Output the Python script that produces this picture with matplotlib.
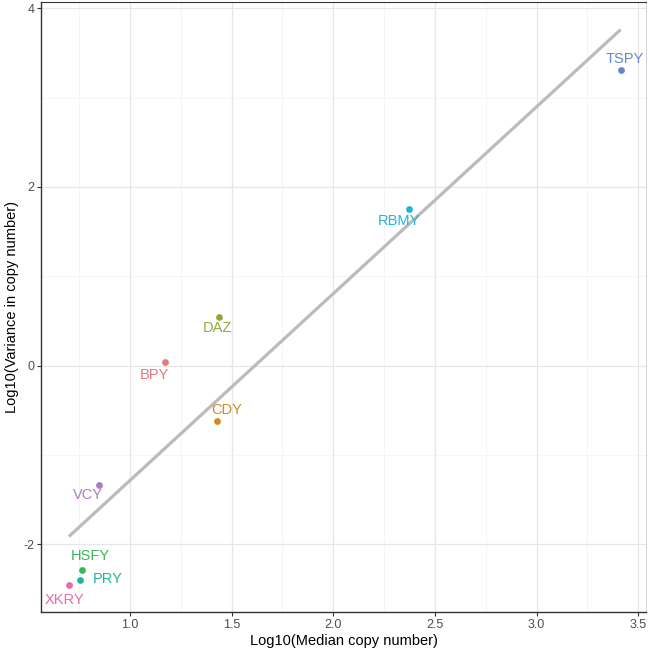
import matplotlib
matplotlib.use("Agg")
import matplotlib.pyplot as plt
import numpy as np

plt.rcParams['font.family'] = ['Liberation Sans', 'DejaVu Sans']

genes = ["BPY", "CDY", "DAZ", "HSFY", "PRY", "RBMY", "TSPY", "VCY", "XKRY"]
log_median = [1.171, 1.428, 1.437, 0.764, 0.754, 2.375, 3.414, 0.847, 0.700]
log_variance = [0.037, -0.615, 0.542, -2.291, -2.395, 1.755, 3.312, -1.332, -2.451]
colors = ["#E97779", "#CB8D22", "#8FAA3C", "#3DB55A", "#1EB8A0",
          "#22B4DA", "#5F89CB", "#AD7CC0", "#E86BAF"]
# label offsets in pixels (dx, dy) relative to each point
label_offsets = {"BPY": (-10, -13), "CDY": (10, 11), "DAZ": (-1, -11),
                 "HSFY": (8, 14), "PRY": (28, 1), "RBMY": (-11, -12),
                 "TSPY": (4, 11), "VCY": (-11, -10), "XKRY": (-5, -15)}
x_ticks = [1.0, 1.5, 2.0, 2.5, 3.0, 3.5]
y_ticks = [-2, 0, 2, 4]

fig = plt.figure(figsize=(6.48, 6.48), dpi=100)
ax = fig.add_axes([0.064, 0.0556, 0.933, 0.941])

x = np.array(log_median)
y = np.array(log_variance)
slope, intercept = np.polyfit(x, y, 1)
xl = np.array([x.min(), x.max()])
ax.plot(xl, intercept + slope * xl, color="#BBBBBB", lw=2.3, zorder=3,
        solid_capstyle="butt")

for g, xi, yi, c in zip(genes, x, y, colors):
    ax.scatter([xi], [yi], s=24, color=c, zorder=4, linewidths=0)
    dx, dy = label_offsets[g]
    ax.annotate(g, (xi, yi), xytext=(dx * 0.72, dy * 0.72), textcoords="offset points",
                ha="center", va="center", fontsize=10.5, color=c, zorder=5)

ax.set_xlim(0.5645, 3.539)
ax.set_ylim(-2.758, 4.067)
ax.set_xticks(x_ticks)
ax.set_xticklabels([f"{v:.1f}" for v in x_ticks])
ax.set_yticks(y_ticks)
ax.set_yticklabels([str(v) for v in y_ticks])
ax.set_xticks([0.75, 1.25, 1.75, 2.25, 2.75, 3.25], minor=True)
ax.set_yticks([-1, 1, 3], minor=True)
ax.grid(True, which="major", color="#E6E6E6", lw=0.9, zorder=0)
ax.grid(True, which="minor", color="#F2F2F2", lw=0.5, zorder=0)
ax.set_axisbelow(True)
ax.tick_params(which="major", length=3, width=0.8, color="#333333",
               labelsize=9, labelcolor="#4D4D4D", pad=2)
ax.tick_params(which="minor", length=0)
for s in ["left", "bottom"]:
    ax.spines[s].set_color("#333333")
    ax.spines[s].set_linewidth(1.0)
ax.spines["top"].set_color("#333333")
ax.spines["top"].set_linewidth(0.8)
ax.spines["right"].set_color("#CCCCCC")
ax.spines["right"].set_linewidth(0.6)

ax.set_xlabel("Log10(Median copy number)", fontsize=10.5, color="black", labelpad=2)
ax.set_ylabel("Log10(Variance in copy number)", fontsize=10.5, color="black", labelpad=3)

fig.savefig("out.png", dpi=100, facecolor="white")
